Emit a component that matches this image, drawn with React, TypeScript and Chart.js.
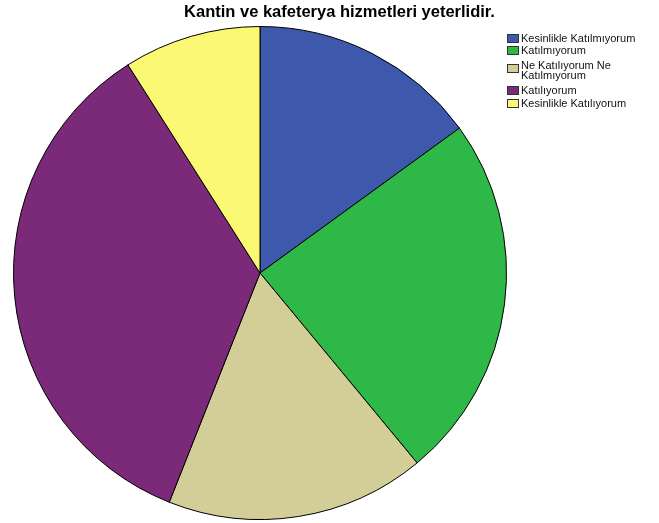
import React, { useEffect, useRef } from "react";
import { Chart, registerables } from "chart.js";

Chart.register(...registerables);

const title = "Kantin ve kafeterya hizmetleri yeterlidir.";
const categories = [
  "Kesinlikle Katılmıyorum",
  "Katılmıyorum",
  "Ne Katılıyorum Ne Katılmıyorum",
  "Katılıyorum",
  "Kesinlikle Katılıyorum",
];
const legendLines = [
  ["Kesinlikle Katılmıyorum"],
  ["Katılmıyorum"],
  ["Ne Katılıyorum Ne", "Katılmıyorum"],
  ["Katılıyorum"],
  ["Kesinlikle Katılıyorum"],
];
const values = [15, 24, 17, 35, 9];
const colors = ["#3e58ac", "#2eb848", "#d3ce97", "#7b2a7a", "#fbf873"];

const rowTops = [32, 44, 60, 84, 97];

export default function App() {
  const ref = useRef<HTMLCanvasElement>(null);
  useEffect(() => {
    document.body.style.margin = "0";
    const chart = new Chart(ref.current!, {
      type: "pie",
      data: {
        labels: categories,
        datasets: [
          {
            data: values,
            backgroundColor: colors,
            borderColor: "#000",
            borderWidth: 1,
          },
        ],
      },
      options: {
        responsive: false,
        animation: false,
        layout: { padding: { left: 13, right: 152, top: 26, bottom: 3 } },
        plugins: {
          legend: { display: false },
          title: { display: false },
          tooltip: { enabled: false },
        },
      },
    });
    return () => chart.destroy();
  }, []);

  const font = "'Liberation Sans', Arial, sans-serif";
  const rows = legendLines.map((lines, i) => {
    const two = lines.length > 1;
    return (
      <div
        key={i}
        style={{ position: "absolute", left: 507, top: rowTops[i], display: "flex", alignItems: "flex-start" }}
      >
        <div
          style={{
            width: 12,
            height: 9,
            marginTop: two ? 4 : 2,
            background: colors[i],
            border: "1px solid #333",
            boxSizing: "border-box",
            marginRight: 2,
          }}
        />
        <div style={{ fontSize: 11, lineHeight: two ? "10px" : "12px", color: "#111" }}>
          {lines.map((l, j) => (
            <div key={j}>{l}</div>
          ))}
        </div>
      </div>
    );
  });

  return (
    <div style={{ position: "relative", width: 659, height: 523, background: "#fff", fontFamily: font }}>
      <canvas ref={ref} width={659} height={523} style={{ position: "absolute", left: 0, top: 0 }} />
      <div
        style={{
          position: "absolute",
          left: 0,
          width: 679,
          top: 2,
          textAlign: "center",
          fontWeight: "bold",
          fontSize: 16.5,
          color: "#000",
        }}
      >
        {title}
      </div>
      {rows}
    </div>
  );
}
